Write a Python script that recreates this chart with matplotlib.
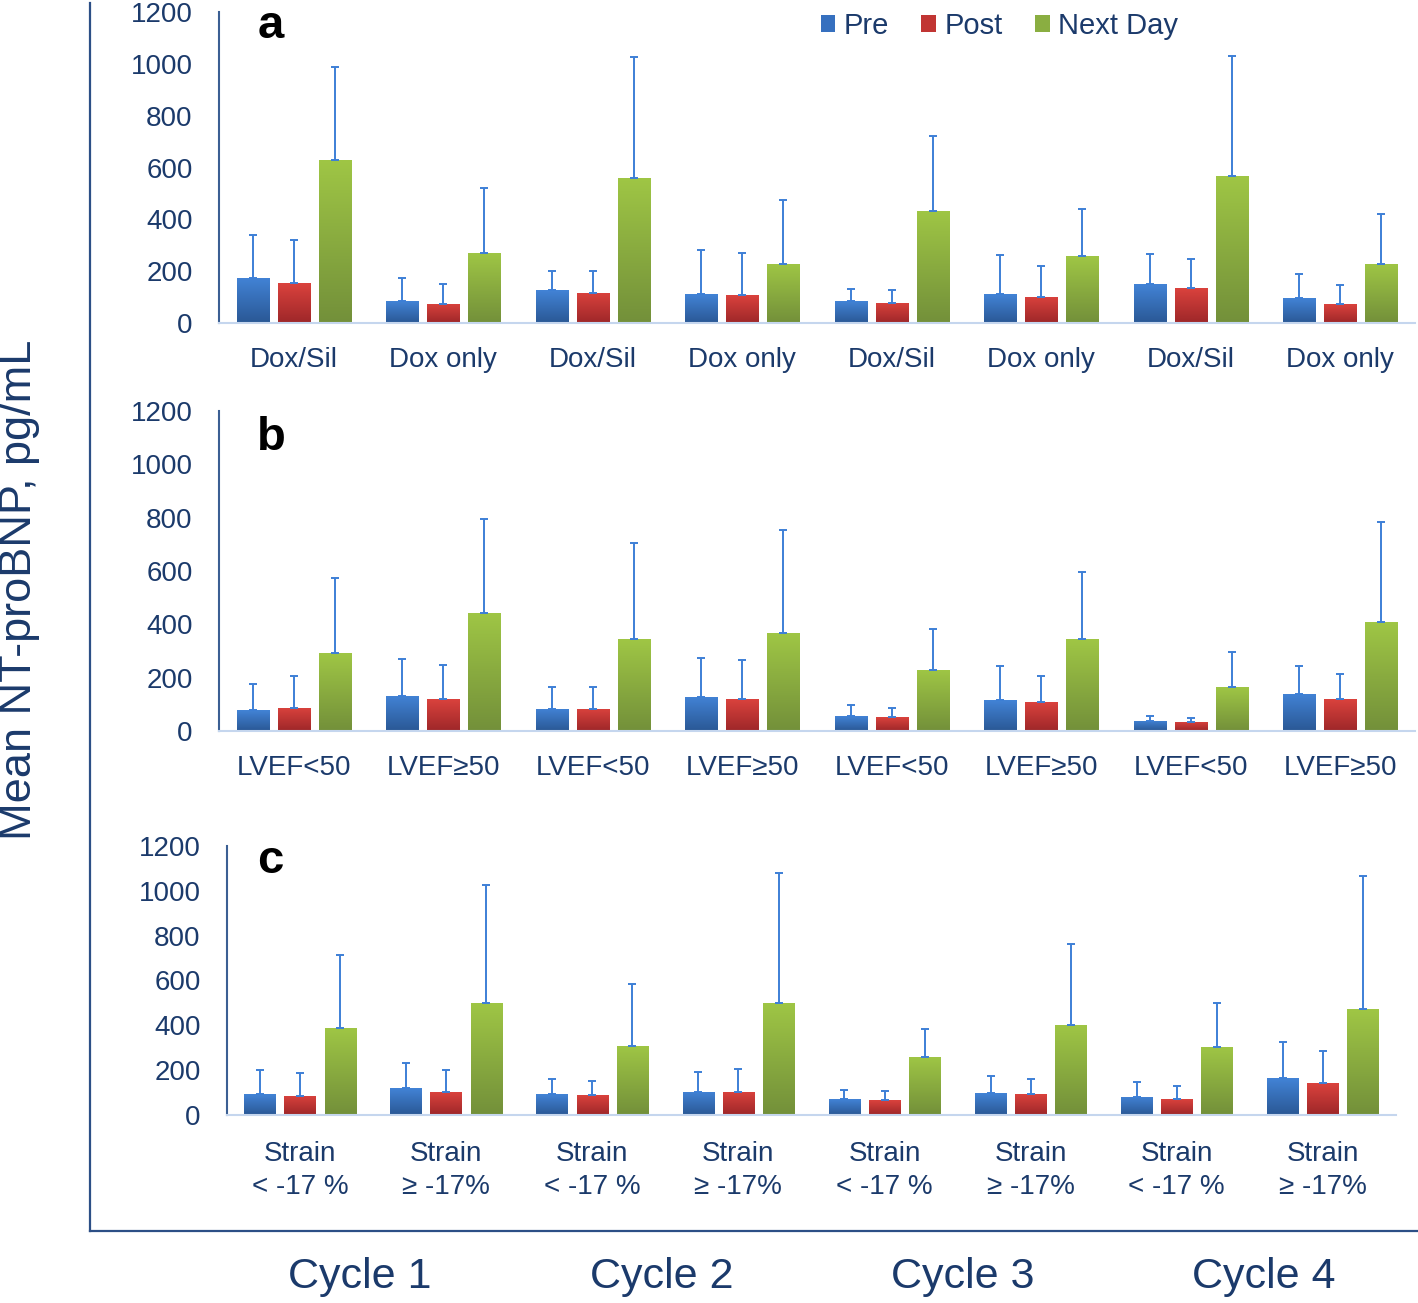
import numpy as np
import matplotlib
matplotlib.use("Agg")
import matplotlib.pyplot as plt
from matplotlib.colors import LinearSegmentedColormap
from matplotlib.patches import Patch

plt.rcParams['font.family'] = ['Liberation Sans', 'DejaVu Sans']

# Data (mean and upper SD)
labels_a = ['Dox/Sil', 'Dox only'] * 4
labels_b = ['LVEF<50', 'LVEF≥50'] * 4
labels_c = ['Strain\n< -17 %', 'Strain\n≥ -17%'] * 4
cycles = ['Cycle 1', 'Cycle 2', 'Cycle 3', 'Cycle 4']
series = ['Pre', 'Post', 'Next Day']

pre_a = [174, 84, 126, 111, 84, 111, 149, 96]
pre_a_sd = [167, 90, 75, 170, 47, 150, 117, 94]
post_a = [154, 75, 116, 107, 79, 102, 135, 73]
post_a_sd = [165, 74, 85, 165, 47, 117, 112, 75]
next_a = [629, 271, 560, 229, 433, 257, 568, 229]
next_a_sd = [358, 250, 467, 245, 290, 183, 462, 193]

pre_b = [77, 133, 83, 128, 56, 115, 39, 139]
pre_b_sd = [101, 137, 82, 147, 40, 129, 17, 105]
post_b = [88, 119, 83, 119, 51, 108, 34, 120]
post_b_sd = [117, 127, 82, 147, 37, 100, 16, 95]
next_b = [292, 444, 344, 366, 230, 344, 165, 408]
next_b_sd = [283, 352, 362, 389, 151, 252, 133, 375]

pre_c = [92, 119, 92, 104, 70, 96, 82, 163]
pre_c_sd = [108, 114, 70, 90, 43, 76, 63, 162]
post_c = [86, 102, 88, 104, 65, 92, 71, 141]
post_c_sd = [102, 98, 65, 101, 43, 70, 58, 145]
next_c = [390, 500, 308, 500, 260, 402, 304, 472]
next_c_sd = [325, 526, 276, 578, 124, 363, 194, 593]

navy = '#1b3a6b'
err_col = '#3d7fd6'
grads = [('#4283d6', '#2a5895'), ('#da423d', '#9e2729'), ('#9fc645', '#73903a')]
mids = ['#3670bf', '#c13533', '#8aae41']

W, H = 1418, 1303
fig = plt.figure(figsize=(W / 100, H / 100), dpi=100)

# outer frame (left + bottom line)
frame = fig.add_axes([90 / W, (H - 1231) / H, (W - 90) / W, 1228 / H])
frame.set_xticks([])
frame.set_yticks([])
for s in ['top', 'right']:
    frame.spines[s].set_visible(False)
for s in ['left', 'bottom']:
    frame.spines[s].set_color('#2c4f86')
    frame.spines[s].set_linewidth(1.6)
frame.patch.set_alpha(0)


def gradient_bars(ax, bars, c_top, c_bot):
    cmap = LinearSegmentedColormap.from_list('g', [c_bot, c_top])
    grad = np.linspace(1, 0, 100).reshape(-1, 1)
    for r in bars:
        x, y0 = r.get_x(), r.get_y()
        w, h = r.get_width(), r.get_height()
        im = ax.imshow(grad, extent=[x, x + w, y0, y0 + h], aspect='auto',
                       cmap=cmap, zorder=2, interpolation='bilinear')
        im.set_clip_path(r)


def panel(rect, letter, letter_pos, cats, means, sds, xpad=17.5, lsp=1.05):
    ax = fig.add_axes(rect)
    x = np.arange(len(cats))
    width, step = 0.215, 0.275
    for k, (m, sd) in enumerate(zip(means, sds)):
        xs = x + (k - 1) * step
        bars = ax.bar(xs, m, width, color=mids[k], zorder=2, linewidth=0)
        gradient_bars(ax, bars, *grads[k])
        ax.errorbar(xs, m, yerr=[np.zeros(len(m)), sd], fmt='none',
                    ecolor=err_col, elinewidth=1.4, capsize=3, capthick=1.4,
                    zorder=3)
    ax.set_xlim(-0.5, len(cats) - 0.5)
    ax.set_ylim(0, 1200)
    ax.set_yticks(np.arange(0, 1201, 200))
    ax.set_xticks(x)
    ax.set_xticklabels(cats, fontsize=20, color=navy, linespacing=lsp)
    ax.tick_params(axis='y', length=0, pad=19, labelsize=20, labelcolor=navy)
    ax.tick_params(axis='x', length=0, pad=xpad)
    for s in ['top', 'right']:
        ax.spines[s].set_visible(False)
    ax.spines['left'].set_color('#3b5f93')
    ax.spines['left'].set_linewidth(1.5)
    ax.spines['bottom'].set_color('#c5d6ee')
    ax.spines['bottom'].set_linewidth(1.5)
    ax.patch.set_alpha(0)
    ax.text(letter_pos[0], letter_pos[1], letter, transform=ax.transAxes,
            fontsize=34, fontweight='bold', color='black', ha='left',
            va='baseline')
    return ax


ax_a = panel([219 / W, (H - 323) / H, (1415 - 219) / W, 311 / H], 'a',
             (0.032, 1 - 26 / 311), labels_a,
             [pre_a, post_a, next_a], [pre_a_sd, post_a_sd, next_a_sd])
ax_b = panel([219 / W, (H - 731) / H, (1415 - 219) / W, 320 / H], 'b',
             (0.032, 1 - 39 / 320), labels_b,
             [pre_b, post_b, next_b], [pre_b_sd, post_b_sd, next_b_sd])
ax_c = panel([227 / W, (H - 1115) / H, (1396 - 227) / W, 269 / H], 'c',
             (0.026, 1 - 27 / 269), labels_c,
             [pre_c, post_c, next_c], [pre_c_sd, post_c_sd, next_c_sd],
             xpad=18.5, lsp=1.38)

handles = [Patch(facecolor=c, edgecolor='none') for c in mids]
fig.legend(handles, series, loc='center left', bbox_to_anchor=(806 / W, 1 - 26 / H),
           ncol=3, frameon=False, fontsize=21, handlelength=0.5, handleheight=0.5,
           handletextpad=0.3, columnspacing=1.1, borderpad=0, labelcolor=navy)

fig.text(20 / W, 1 - 590 / H, 'Mean NT-proBNP, pg/mL', rotation=90, fontsize=32.5,
         color=navy, ha='center', va='center')

for i, c in enumerate(cycles):
    fig.text((360 + i * 301.3) / W, 1 - 1277 / H, c, fontsize=31, color=navy,
             ha='center', va='center')

fig.savefig('out.png', dpi=100)
